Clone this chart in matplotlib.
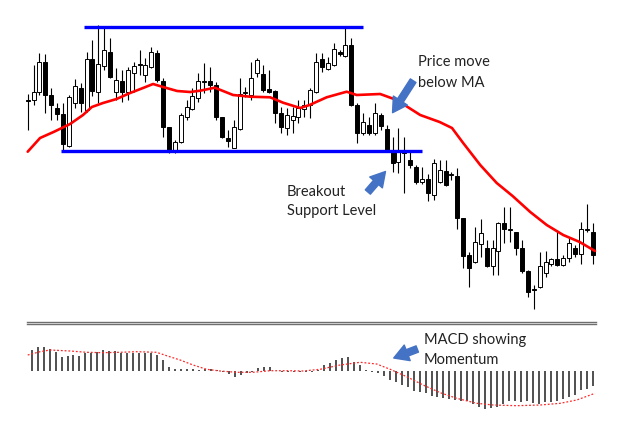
"""Candlestick chart with a support breakout, moving average and MACD panel."""

import matplotlib

matplotlib.use("Agg")
import matplotlib.pyplot as plt
import numpy as np

COLORS = {
    "ma": "#ff0000",
    "level": "#0000ff",
    "arrow": "#4472c4",
    "hist": "#505050",
    "signal": "#ff2a2a",
    "divider": "#6e6e6e",
    "text": "#222222",
}

# OHLC prices (arbitrary units)
opens = [300, 300, 308, 338, 305, 292, 286, 254, 297, 312, 290, 341, 308, 334, 348, 308,
         319, 308, 327, 335.5, 325, 333, 347, 319, 273, 249, 258, 283, 291, 302, 318, 319,
         315, 283, 262, 252, 271, 307, 305, 327, 326, 311, 309, 287, 272, 280, 283, 291,
         295, 308, 341, 331, 335, 348, 344, 355, 295, 267, 275, 267, 285, 271, 248, 238,
         247, 240, 233, 218, 221, 205, 218, 229, 225, 224, 182, 145, 138, 156, 152, 134,
         149, 177, 170, 168, 152, 129, 110.5, 113, 127, 136, 141, 135, 142, 152, 146, 170, 168]
highs = [306, 335, 347, 346, 312, 297, 297, 305, 321, 317, 348, 360, 375, 373, 362, 332,
         330, 333, 338, 350, 342, 353, 350, 322, 273, 260, 287, 300, 312, 327, 337, 333,
         318, 283, 270, 280, 322, 313, 338, 342, 335, 330, 310, 293, 292, 293, 300, 300,
         312, 347, 347, 343, 357, 350, 372, 362, 297, 287, 283, 297, 287, 275, 263, 272,
         263, 250, 235, 233, 226, 241, 240, 240, 228, 232, 182, 148, 173, 181, 160, 160,
         178, 193, 193, 168, 160, 130, 115, 148, 149, 142, 170, 145, 163, 155, 178, 196, 177]
lows = [270, 295, 305, 287, 280, 280, 250, 253, 292, 288, 288, 304, 297, 330, 322, 300,
        298, 300, 308, 325, 318, 332, 318, 263, 247, 247, 257, 280, 290, 298, 307, 308,
        280, 262, 253, 252, 270, 303, 300, 323, 308, 307, 277, 267, 265, 267, 277, 283,
        282, 307, 328, 330, 334, 344, 343, 294, 257, 265, 265, 265, 270, 248, 228, 227,
        207, 232, 216, 216, 199, 200, 217, 214, 220, 171, 132, 113, 137, 143, 133, 125,
        125, 157, 158, 145, 127, 103, 91, 112, 123, 134, 134, 134, 138, 143, 136, 168, 136]
closes = [299, 308, 338, 305, 295, 286, 256, 303, 314, 297, 341, 309, 336, 350, 323, 320,
          308, 330, 334, 335, 335, 348, 320, 273, 249, 258, 285, 293, 304, 319, 318.5, 315,
          283, 263, 259, 273, 306, 307.5, 322, 340, 310, 308, 287, 273, 285, 284, 292, 295,
          310, 338, 333, 337, 351, 346, 355, 295, 267, 278, 267, 287, 274, 250, 237, 250,
          250, 235, 218, 221, 207, 237, 230, 215, 225, 182, 144, 132, 158, 167, 134, 152,
          177, 171, 170, 152, 129, 108, 110, 134, 138, 141, 135, 142, 157, 146, 171, 170, 145]

# Moving average read at a set of candle positions
ma_pos = [0, 2.1, 4.5, 7.2, 9.4, 10.9, 12.8, 15.1, 17.4, 19.6, 21.3, 23, 25.4, 27.6, 29.3,
          31.8, 34.9, 37.8, 41.2, 43.4, 46.3, 47.9, 50.8, 54.2, 55.9, 59.9, 62.7, 66.7, 70,
          72.1, 74, 76.9, 79.7, 82.4, 85.4, 88.2, 91, 93.8, 96.4]
ma_vals = [248.3, 262, 268.3, 276, 285, 293, 297, 301, 307, 312, 316, 313, 309, 308, 309.3,
           312.3, 305, 303.3, 302.7, 297.3, 292, 295, 302.7, 308.3, 305, 306, 300, 285, 278,
           272, 257, 235, 217, 204, 188, 175, 165, 158, 149]

# Horizontal levels
resistance = 373.3
support = 249

# MACD histogram and signal line
macd_hist = [20.5, 23.8, 23.2, 21.5, 18.8, 13.8, 14.8, 15.5, 14.5, 17.2, 17.2, 18.2, 20.5,
             19.8, 19.2, 17.2, 17.2, 17.2, 17.2, 17.2, 17.2, 15.5, 10.5, 3.2, 1.2, 1.2, 1.2,
             1.2, 0.5, 1.5, 1.5, 0.5, -1, -3, -6, -4, -2, -1.5, 2.5, 3.5, 3.5, -0.5, -1, -1,
             -1.5, -1.5, -1.5, -1, 1, 5.5, 7.8, 10.5, 12.2, 13.8, 8.8, 5.5, 1, -1, -2, -5,
             -9.3, -11.7, -14, -16.7, -20, -21, -22.7, -25, -26.7, -27.3, -28.3, -29.3, -30,
             -30.7, -33.3, -36.7, -38.3, -37.3, -36.7, -33.3, -30.7, -30, -31.7, -30, -32.7,
             -33.3, -31.7, -31.7, -30.7, -28.3, -26, -24, -19.3, -18.3, -15]
signal_pos = [0, 2.1, 3.8, 7.2, 10, 12.8, 15.7, 18.5, 21.9, 23.6, 25.9, 28.1, 30.4, 32.7,
              35.5, 38.3, 41.2, 44, 46.8, 49.7, 53.1, 56.5, 59.3, 61.6, 64.4, 67.2, 70.1,
              72.9, 76.3, 79.1, 83.1, 87.1, 90.5, 93.3, 96.4]
signal_vals = [15.5, 18.8, 20.5, 19.5, 18.2, 17.8, 18.2, 18.8, 18.2, 14.8, 10.5, 5.5, 1.2,
               -0.5, -1.8, -1.8, -0.2, -0.2, -0.5, 1.2, 5.5, 8.2, 6.5, 1.2, -6.2, -14.5,
               -22.2, -27.8, -32.8, -34.5, -35.2, -34.5, -32.8, -29.5, -22.8]

W, H = 624, 423
XLIM = (-4.707, 101.33)


def draw_candles(ax):
    o = np.array(opens)
    c = np.array(closes)
    x = np.arange(len(o))
    up = c >= o
    ax.vlines(x, lows, highs, color="black", linewidth=0.8, zorder=2)
    bottom = np.minimum(o, c)
    height = np.maximum(np.abs(c - o), 1.0)
    ax.bar(x[up], height[up], bottom=bottom[up], width=0.68, color="white",
           edgecolor="black", linewidth=0.7, zorder=3)
    ax.bar(x[~up], height[~up], bottom=bottom[~up], width=0.68, color="black",
           edgecolor="black", linewidth=0.7, zorder=3)


fig = plt.figure(figsize=(W / 100, H / 100), dpi=100)
fig.patch.set_facecolor("white")

ax = fig.add_axes([0, 108 / H, 1, 315 / H])
ax.set_xlim(*XLIM)
ax.set_ylim(85, 400)
ax.axis("off")

draw_candles(ax)
ax.plot(ma_pos, ma_vals, color=COLORS["ma"], linewidth=1.9, zorder=4,
        solid_capstyle="round", solid_joinstyle="round")
ax.plot([9.62, 57.0], [resistance, resistance], color=COLORS["level"], linewidth=2.4,
        zorder=5, solid_capstyle="butt")
ax.plot([5.6, 67.05], [support, support], color=COLORS["level"], linewidth=2.4,
        zorder=5, solid_capstyle="butt")

arrow_style = dict(arrowstyle="simple,head_length=0.65,head_width=0.75,tail_width=0.3",
                   color=COLORS["arrow"], shrinkA=0, shrinkB=0, mutation_scale=16)
ax.annotate("", xy=(62.0, 287.3), xytext=(65.5, 319.3), arrowprops=arrow_style, zorder=6)
ax.annotate("", xy=(60.8, 228.5), xytext=(57.8, 208), arrowprops=arrow_style, zorder=6)

# MACD panel
mx = fig.add_axes([0, 0, 1, 108 / H])
mx.set_xlim(*XLIM)
mx.set_ylim(-52.5, 55.5)
mx.axis("off")

hist_x = np.linspace(0.68, 96.0, len(macd_hist))
mx.vlines(hist_x, 0, macd_hist, color=COLORS["hist"], linewidth=1.4, zorder=2)
mx.plot(signal_pos, signal_vals, color=COLORS["signal"], linewidth=0.9,
        linestyle=(0, (1.5, 1.5)), zorder=3)
for yv in (49.0, 47.0):
    mx.plot([-0.06, 96.6], [yv, yv], color=COLORS["divider"], linewidth=1.0, zorder=1)
mx.annotate("", xy=(62.2, 12.5), xytext=(66.2, 21.5), arrowprops=arrow_style, zorder=6)

text_kw = dict(fontsize=10.5, family=["Lato", "DejaVu Sans"], color=COLORS["text"],
               va="top", ha="left")
fig.text(418 / W, 1 - 55 / H, "Price move\nbelow MA", linespacing=1.6, **text_kw)
fig.text(287 / W, 1 - 185 / H, "Breakout\nSupport Level", linespacing=1.45, **text_kw)
fig.text(424 / W, 1 - 333 / H, "MACD showing\nMomentum", linespacing=1.55, **text_kw)

fig.savefig("out.png", dpi=100, facecolor="white")
